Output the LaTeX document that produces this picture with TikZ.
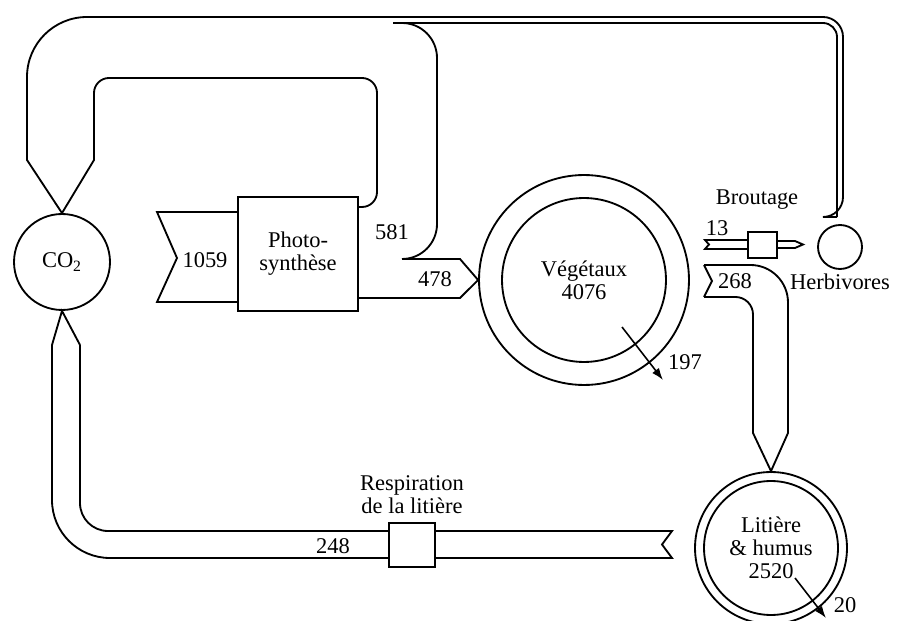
\documentclass[tikz,border=0pt]{standalone}
\usepackage{fontspec}
\setmainfont{Liberation Serif}
\usetikzlibrary{arrows.meta}
\tikzset{
  >=Latex,
  pool/.style={circle,draw,line width=1.05pt,inner sep=0pt,align=center,font=\fontsize{12.8}{13}\selectfont},
  gate/.style={draw,line width=1.05pt,inner sep=0pt,align=center,font=\fontsize{12.8}{13}\selectfont},
  pipe/.style={line width=1.05pt,line join=miter},
  num/.style={font=\fontsize{12.8}{13}\selectfont,align=center,inner sep=1pt},
  drain/.style={-{Latex[length=2.4mm,width=1.7mm]},line width=0.9pt}
}
\begin{document}
\begin{tikzpicture}[x=0.02cm,y=-0.02cm]
  \useasboundingbox (0,0) rectangle (903,621);
  % stocks
  \node[pool,minimum size=1.92cm] (co2) at (62,262) {CO\textsubscript{2}};
  \node[pool,minimum size=4.2cm] (vegout) at (584,280) {};
  \node[pool,minimum size=3.28cm] (veg) at (584,280) {Végétaux\\4076};
  \node[pool,minimum size=3.04cm] (litout) at (771,548) {};
  \node[pool,minimum size=2.68cm] (lit) at (771,548) {Litière\\\& humus\\2520};
  \node[pool,minimum size=0.88cm] (herb) at (840,247) {};
  \node[num,below=1pt] (herblab) at (herb.south) {Herbivores};
  % gates
  \node[gate,minimum width=2.4cm,minimum height=2.28cm] (photo) at (298,254) {Photo-\\synthèse};
  \node[gate,minimum width=0.58cm,minimum height=0.52cm] (brout) at (762.5,245) {};
  \node[gate,minimum width=0.92cm,minimum height=0.88cm] (resp) at (412,545) {};
  % uptake 1059
  \draw[pipe] (photo.west |- 0,212) -- (157,212) -- (177,258) -- (157,302) -- (photo.west |- 0,302);
  % return loop 581 and herbivore channel
  \draw[pipe] (co2.north) -- (27,160) -- (27,100);
  \draw[pipe,rounded corners=1.2cm] (27,100) -- (27,17) -- (500,17);
  \draw[pipe,rounded corners=0.4cm] (500,17) -- (843,17) -- (843,217) -- (837,217);
  \draw[pipe,rounded corners=0.28cm] (393,23) -- (837,23) -- (837,217);
  \draw[pipe,rounded corners=0.7cm] (393,23) -- (437,23) -- (437,259) -- (402,259);
  \draw[pipe,rounded corners=0.3cm] (photo.east |- 0,207) -- (377,207) -- (377,78) -- (94,78) -- (94,120);
  \draw[pipe] (94,120) -- (94,160) -- (co2.north);
  % production 478
  \draw[pipe] (402,259) -- (460,259) -- (vegout.west) -- (460,298) -- (photo.east |- 0,298);
  % litter fall 268
  \draw[pipe] (704,265) -- (712,281) -- (704,297);
  \draw[pipe,rounded corners=0.75cm] (704,265) -- (788,265) -- (788,400);
  \draw[pipe] (788,400) -- (788,433) -- (litout.north) -- (753,433) -- (753,400);
  \draw[pipe,rounded corners=0.35cm] (753,400) -- (753,297) -- (704,297);
  % grazing 13
  \draw[pipe] (brout.west |- 0,240) -- (705,240) -- (709,244.5) -- (705,249) -- (brout.west |- 0,249);
  \draw[pipe] (brout.east |- 0,241) -- (795,241) -- (803,244.5) -- (795,248) -- (brout.east |- 0,248);
  % litter respiration 248
  \draw[pipe] (52,345) -- (co2.south) -- (80,345);
  \draw[pipe,rounded corners=1.16cm] (52,345) -- (52,558) -- (resp.west |- 0,558);
  \draw[pipe,rounded corners=0.56cm] (80,345) -- (80,531) -- (resp.west |- 0,531);
  \draw[pipe] (resp.east |- 0,531) -- (672,531) -- (662,544.5) -- (672,558) -- (resp.east |- 0,558);
  % losses
  \draw[drain] (622,327) -- (663,380);
  \draw[drain] (795,578) -- (826,618);
  % labels
  \node[num] (l1059) at (205,260) {1059};
  \node[num] (l581) at (392,232) {581};
  \node[num] (l478) at (435,279) {478};
  \node[num] (l197) at (685,362) {197};
  \node[num] (l13) at (717,228) {13};
  \node[num] (lbrout) at (757,200) {Broutage};
  \node[num] (l268) at (735,281) {268};
  \node[num] (l20) at (845,605) {20};
  \node[num] (l248) at (333,546) {248};
  \node[num] (lresp) at (412,495) {Respiration\\de la litière};
\end{tikzpicture}
\end{document}
